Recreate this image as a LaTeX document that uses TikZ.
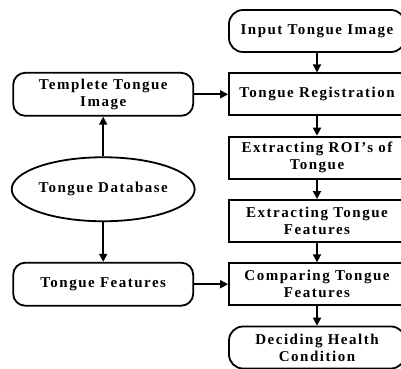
\documentclass[tikz,border=0pt]{standalone}
\usepackage{fontspec}
\setmainfont{Liberation Serif}[LetterSpace=10]
\usepackage{tikz}
\usetikzlibrary{arrows.meta,positioning,shapes.geometric,calc}

\begin{document}
\begin{tikzpicture}[
  node distance=19.5pt,
  every node/.style={font=\bfseries\fontsize{15}{17}\selectfont,align=center,line width=1.8pt},
  stepbox/.style={draw,minimum width=176pt,minimum height=42pt,inner sep=2pt},
  termbox/.style={stepbox,rounded corners=14pt},
  sidebox/.style={draw,rounded corners=12pt,minimum width=180pt,minimum height=43pt,inner sep=2pt},
  dbase/.style={draw,ellipse,minimum width=180pt,minimum height=64pt,inner sep=0pt},
  arrow/.style={-{Triangle[length=8pt,width=8pt]},line width=1.8pt}
]
  \useasboundingbox (0pt,0pt) rectangle (401pt,-368pt);

  \node[termbox] (inp) at (317pt,-31pt) {Input Tongue Image};
  \node[stepbox, below=of inp] (reg) {Tongue Registration};
  \node[stepbox, below=of reg] (roi) {Extracting ROI's of\\Tongue};
  \node[stepbox, below=of roi] (ext) {Extracting Tongue\\Features};
  \node[stepbox, below=of ext] (cmp) {Comparing Tongue\\Features};
  \node[termbox, below=of cmp] (dec) {Deciding Health\\Condition};

  \node[sidebox, left=34pt of reg] (tmpl) {Templete Tongue\\Image};
  \node[sidebox, left=34pt of cmp] (feat) {Tongue Features};
  \node[dbase] (db) at ($(tmpl)!0.5!(feat)$) {Tongue Database};

  \draw[arrow] (inp) -- (reg);
  \draw[arrow] (reg) -- (roi);
  \draw[arrow] (roi) -- (ext);
  \draw[arrow] (ext) -- (cmp);
  \draw[arrow] (cmp) -- (dec);
  \draw[arrow] (db) -- (tmpl);
  \draw[arrow] (db) -- (feat);
  \draw[arrow] (tmpl) -- (reg);
  \draw[arrow] (feat) -- (cmp);
\end{tikzpicture}
\end{document}
